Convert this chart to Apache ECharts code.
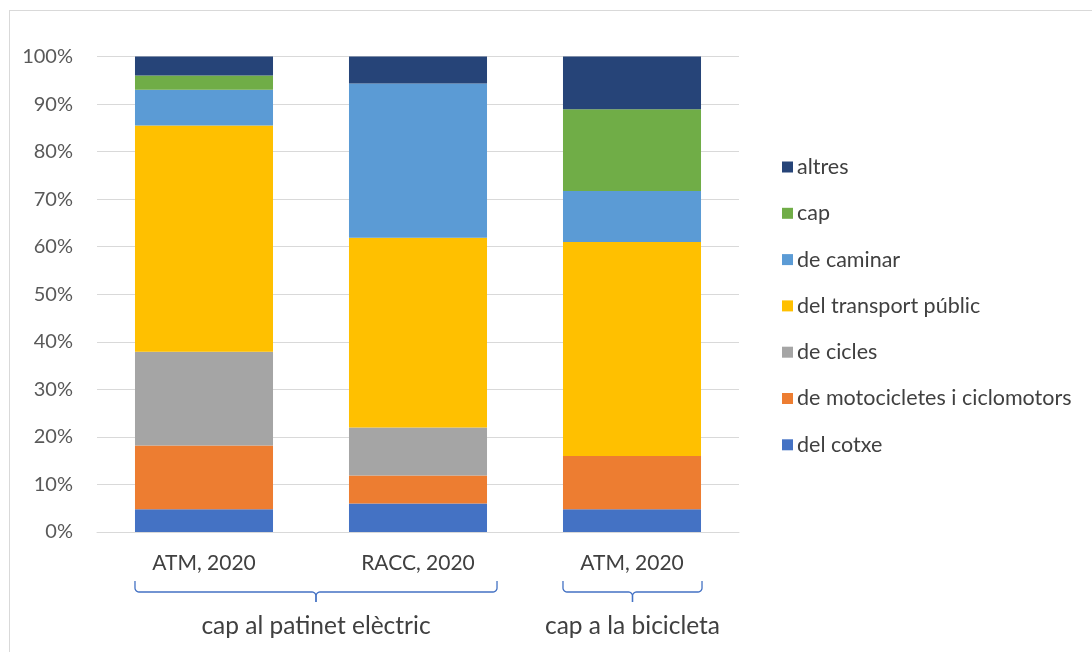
<!DOCTYPE html>
<html>
<head>
<meta charset="utf-8">
<script src="https://cdn.jsdelivr.net/npm/echarts@6/dist/echarts.min.js"></script>
<style>
html,body{margin:0;padding:0;background:#fff;}
#wrap{position:absolute;left:9px;top:10px;width:1100px;height:660px;border:1px solid #d9d9d9;}
#chart{position:absolute;left:0;top:0;width:1092px;height:652px;}
</style>
</head>
<body>
<div id="wrap"></div>
<div id="chart"></div>
<script>
const categories = ['ATM, 2020', 'RACC, 2020', 'ATM, 2020'];
const groupLabels = ['cap al patinet elèctric', 'cap a la bicicleta'];
const groupSpans = [[0, 1], [2, 2]];
const yTicks = [0, 10, 20, 30, 40, 50, 60, 70, 80, 90, 100];

const seriesNames = ['del cotxe', 'de motocicletes i ciclomotors', 'de cicles', 'del transport públic', 'de caminar', 'cap', 'altres'];
const cotxe = [4.8, 6.0, 4.8];
const motos = [13.4, 5.9, 11.2];
const cicles = [19.7, 10.1, 0];
const transport = [47.6, 39.9, 45.0];
const caminar = [7.5, 32.4, 10.7];
const cap = [3.0, 0, 17.2];
const altres = [4.0, 5.7, 11.1];
const seriesValues = [cotxe, motos, cicles, transport, caminar, cap, altres];
const colors = ['#4472c4', '#ed7d31', '#a5a5a5', '#ffc000', '#5b9bd5', '#70ad47', '#264478'];

const FONT = 'Lato';
const chart = echarts.init(document.getElementById('chart'));
const BAR_FRAC = 0.645;
const BRACKET_EXTRA = [[0, 10], [0, 1]];

const option = {
  animation: false,
  grid: {left: 97, right: 353, top: 56.5, bottom: 120, containLabel: false},
  legend: {
    orient: 'vertical',
    left: 777,
    top: 151,
    itemWidth: 11,
    itemHeight: 11,
    itemGap: 24.3,
    icon: 'rect',
    data: seriesNames.slice().reverse(),
    textStyle: {fontFamily: FONT, fontSize: 21.5, color: '#404040', lineHeight: 20, padding: [0, 0, 0, -1]}
  },
  xAxis: {
    type: 'category',
    data: categories,
    axisLine: {lineStyle: {color: '#d9d9d9', width: 1}},
    axisTick: {show: false},
    axisLabel: {fontFamily: FONT, fontSize: 21, color: '#404040', margin: 21}
  },
  yAxis: {
    type: 'value',
    min: 0, max: 100, interval: 10,
    axisLine: {show: false},
    axisTick: {show: false},
    splitLine: {lineStyle: {color: '#d9d9d9', width: 1}},
    axisLabel: {fontFamily: FONT, fontSize: 20, color: '#595959', margin: 24,
      formatter: v => (yTicks.indexOf(v) >= 0 ? v + '%' : '')}
  },
  series: seriesNames.map((n, i) => ({
    name: n,
    type: 'bar',
    stack: 'total',
    barWidth: (BAR_FRAC * 100) + '%',
    itemStyle: {color: colors[i]},
    data: seriesValues[i]
  }))
};
chart.setOption(option);

function arcPts(cx, cy, r, a0, a1) {
  const pts = [];
  for (let k = 0; k <= 6; k++) {
    const a = a0 + (a1 - a0) * k / 6;
    pts.push([cx + r * Math.cos(a), cy + r * Math.sin(a)]);
  }
  return pts;
}

function drawGroups() {
  const x0 = chart.convertToPixel({xAxisIndex: 0}, 0);
  const x1 = chart.convertToPixel({xAxisIndex: 0}, 1);
  const cw = x1 - x0;
  const half = cw * BAR_FRAC / 2;
  const yBase = chart.convertToPixel({yAxisIndex: 0}, 0);
  const yTop = yBase + 49, yMid = yBase + 60, yBot = yBase + 70;
  const r = 4;
  const P = Math.PI;
  const els = [];
  groupSpans.forEach((s, gi) => {
    const a = chart.convertToPixel({xAxisIndex: 0}, s[0]) - half + BRACKET_EXTRA[gi][0];
    const b = chart.convertToPixel({xAxisIndex: 0}, s[1]) + half + BRACKET_EXTRA[gi][1];
    const m = (a + b) / 2;
    let pts = [[a, yTop]];
    pts = pts.concat(arcPts(a + r, yMid - r, r, P, P / 2));
    pts = pts.concat(arcPts(m - r, yMid + r, r, -P / 2, 0));
    pts.push([m, yBot]);
    let pts2 = [[m, yBot]];
    pts2 = pts2.concat(arcPts(m + r, yMid + r, r, P, 3 * P / 2));
    pts2 = pts2.concat(arcPts(b - r, yMid - r, r, P / 2, 0));
    pts2.push([b, yTop]);
    els.push({type: 'polyline', shape: {points: pts}, style: {stroke: '#4472c4', lineWidth: 1.3, fill: 'none'}, silent: true});
    els.push({type: 'polyline', shape: {points: pts2}, style: {stroke: '#4472c4', lineWidth: 1.3, fill: 'none'}, silent: true});
    els.push({type: 'text', x: m, y: yBase + 94, style: {text: groupLabels[gi], fontFamily: FONT, fontSize: 24.5, fill: '#404040', align: 'center', verticalAlign: 'middle'}, silent: true});
  });
  chart.setOption({graphic: {elements: els}});
}
drawGroups();
</script>
</body>
</html>
